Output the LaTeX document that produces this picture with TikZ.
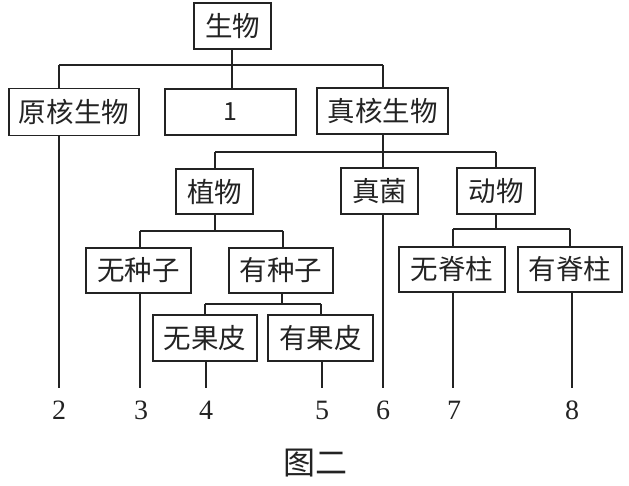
\documentclass[tikz,border=0pt]{standalone}
\usepackage{fontspec}
\newfontfamily\cjk{Noto Sans CJK SC}
\setmainfont{Liberation Serif}
\definecolor{ink}{RGB}{35,35,35}
\begin{document}
\begin{tikzpicture}[x=1pt,y=-1pt,
  box/.style={draw=ink,line width=1.4pt,inner sep=0pt,font=\cjk\fontsize{27.5}{27.5}\selectfont,text=ink},
  num/.style={inner sep=0pt,font=\fontsize{28}{28}\selectfont,text=ink},
  ln/.style={draw=ink,line width=1.4pt}]
\useasboundingbox (0,0) rectangle (629,485);
% boxes
\node[box,minimum width=77,minimum height=46] (root) at (232.5,26) {生物};
\node[box,minimum width=130,minimum height=47] (pro) at (74,112) {原核生物};
\node[box,minimum width=131,minimum height=46] (one) at (230.5,112) {\fontsize{25}{25}\selectfont 1};
\node[box,minimum width=131,minimum height=46] (euk) at (382.5,111) {真核生物};
\node[box,minimum width=77,minimum height=45] (plant) at (214.5,191.5) {植物};
\node[box,minimum width=77,minimum height=46] (fungi) at (379.5,191) {真菌};
\node[box,minimum width=78,minimum height=46] (animal) at (496,191) {动物};
\node[box,minimum width=105,minimum height=45] (noseed) at (138.5,270.5) {无种子};
\node[box,minimum width=104,minimum height=45] (seed) at (281,270.5) {有种子};
\node[box,minimum width=104,minimum height=46] (nopeel) at (205,338) {无果皮};
\node[box,minimum width=105,minimum height=46] (peel) at (320.5,338) {有果皮};
\node[box,minimum width=106,minimum height=45] (noverte) at (452,269.5) {无脊柱};
\node[box,minimum width=104,minimum height=45] (verte) at (570,269.5) {有脊柱};
% number labels
\node[num] (n2) at (59,410) {2};
\node[num] (n3) at (141,410) {3};
\node[num] (n4) at (206,410) {4};
\node[num] (n5) at (322,410) {5};
\node[num] (n6) at (383,410) {6};
\node[num] (n7) at (454,410) {7};
\node[num] (n8) at (572,410) {8};
\node[inner sep=0pt,font=\cjk\fontsize{32}{32}\selectfont,text=ink] (cap) at (315,463) {图二};
% line ends above numbers
\coordinate (e2) at (59,388);
\coordinate (e3) at (140,388);
\coordinate (e4) at (206,388);
\coordinate (e5) at (322,388);
\coordinate (e6) at (383,388);
\coordinate (e7) at (453,388);
\coordinate (e8) at (572,388);
% buses
\coordinate (b1l) at (59,65);  \coordinate (b1r) at (383,65);
\coordinate (b2l) at (215,152); \coordinate (b2r) at (496,152);
\coordinate (b3l) at (140,231); \coordinate (b3r) at (283,231);
\coordinate (b4l) at (205,304); \coordinate (b4r) at (321,304);
\coordinate (b5l) at (453,229); \coordinate (b5r) at (570,229);
% level 1
\draw[ln] (b1l) -- (b1r);
\draw[ln] (root.south -| 232,0) -- (one.north -| 232,0);
\draw[ln] (b1l) -- (b1l |- pro.north);
\draw[ln] (b1r) -- (b1r |- euk.north);
\draw[ln] (pro.south -| e2) -- (e2);
% level 2
\draw[ln] (b2l) -- (b2r);
\draw[ln] (euk.south -| e6) -- (fungi.north -| e6);
\draw[ln] (b2l) -- (b2l |- plant.north);
\draw[ln] (b2r) -- (b2r |- animal.north);
\draw[ln] (fungi.south -| e6) -- (e6);
% plants
\draw[ln] (plant.south -| b2l) -- (b2l |- b3l);
\draw[ln] (b3l) -- (b3r);
\draw[ln] (b3l) -- (b3l |- noseed.north);
\draw[ln] (b3r) -- (b3r |- seed.north);
\draw[ln] (noseed.south -| e3) -- (e3);
\draw[ln] (seed.south -| 282,0) -- (282,304);
\draw[ln] (b4l) -- (b4r);
\draw[ln] (b4l) -- (b4l |- nopeel.north);
\draw[ln] (b4r) -- (b4r |- peel.north);
\draw[ln] (nopeel.south -| e4) -- (e4);
\draw[ln] (peel.south -| e5) -- (e5);
% animals
\draw[ln] (animal.south -| b2r) -- (b2r |- b5l);
\draw[ln] (b5l) -- (b5r);
\draw[ln] (b5l) -- (b5l |- noverte.north);
\draw[ln] (b5r) -- (b5r |- verte.north);
\draw[ln] (noverte.south -| e7) -- (e7);
\draw[ln] (verte.south -| e8) -- (e8);
\end{tikzpicture}
\end{document}
